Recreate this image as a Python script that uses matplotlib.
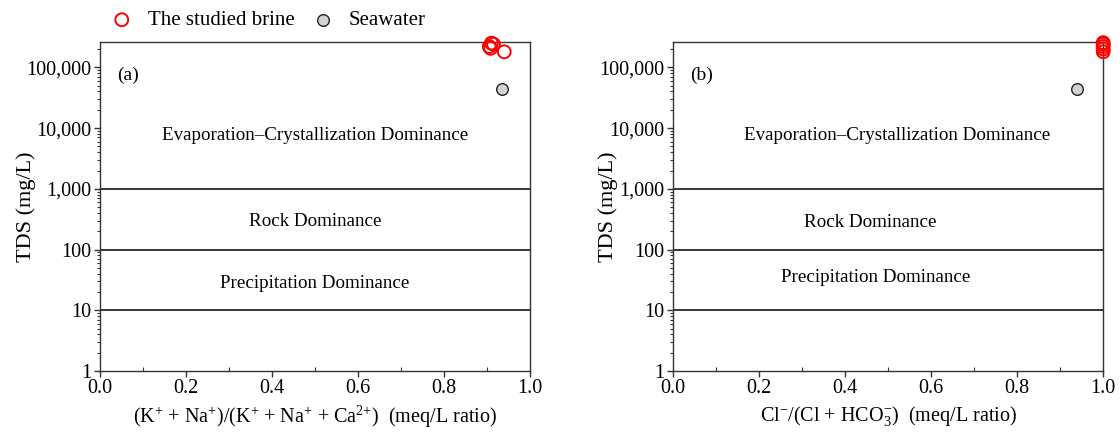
import numpy as np
import matplotlib
matplotlib.use('Agg')
import matplotlib.pyplot as plt
from matplotlib.ticker import FuncFormatter, LogLocator, MultipleLocator

plt.rcParams['font.family'] = ['Liberation Serif', 'DejaVu Serif']
plt.rcParams['mathtext.fontset'] = 'custom'
plt.rcParams['mathtext.rm'] = 'Liberation Serif'
plt.rcParams['mathtext.it'] = 'Liberation Serif:italic'
plt.rcParams['mathtext.bf'] = 'Liberation Serif:bold'

# panel (a): cation ratio vs TDS
brine_cation_ratio = [0.905, 0.910, 0.915, 0.908, 0.940]
brine_tds_a = [220000, 250000, 240000, 205000, 180000]
# panel (b): Cl/(Cl+HCO3) ratio vs TDS
brine_anion_ratio = [1.0, 1.0, 1.0, 1.0, 1.0]
brine_tds_b = [255000, 240000, 220000, 200000, 180000]

seawater_cation_ratio = [0.935]
seawater_anion_ratio = [0.94]
seawater_tds = [43500]

boundaries = [1000, 100, 10]
y_ticks = [1, 10, 100, 1000, 10000, 100000]

xlabels = [r'(K$^{+}$ + Na$^{+}$)/(K$^{+}$ + Na$^{+}$ + Ca$^{2{+}}$)  (meq/L ratio)',
           r'Cl$^{-}$/(Cl + HCO$_{3}^{-}$)  (meq/L ratio)']
panel_tags = ['(a)', '(b)']
# region labels: text, x position, y position (data)
regions_a = [('Evaporation\u2013Crystallization Dominance', 0.5, 7500),
             ('Rock Dominance', 0.5, 290),
             ('Precipitation Dominance', 0.5, 28)]
regions_b = [('Evaporation\u2013Crystallization Dominance', 0.52, 7500),
             ('Rock Dominance', 0.458, 280),
             ('Precipitation Dominance', 0.47, 35)]

fig = plt.figure(figsize=(11.2, 4.34), dpi=100)
ax1 = fig.add_axes([0.0893, 0.145, 0.384, 0.758])
ax2 = fig.add_axes([0.601, 0.145, 0.384, 0.758])

spine_col = '#333333'


def style_axis(ax, xlabel, tag, regions, ylab_x):
    ax.set_yscale('log')
    ax.set_xlim(0, 1)
    ax.set_ylim(1, 260000)
    for b in boundaries:
        ax.axhline(b, color='black', lw=1.1, zorder=1)
    for txt, x, y in regions:
        ax.text(x, y, txt, ha='center', va='center', fontsize=13.7)
    ax.text(0.04, 0.9, tag, transform=ax.transAxes, fontsize=14,
            ha='left', va='center')
    ax.set_yticks(y_ticks)
    ax.yaxis.set_minor_locator(LogLocator(base=10, subs=np.arange(2, 10)))
    ax.yaxis.set_major_formatter(FuncFormatter(lambda v, p: f'{int(v):,}'))
    ax.yaxis.set_minor_formatter(FuncFormatter(lambda v, p: ''))
    ax.xaxis.set_major_locator(MultipleLocator(0.2))
    ax.xaxis.set_minor_locator(MultipleLocator(0.1))
    ax.xaxis.set_major_formatter(FuncFormatter(lambda v, p: f'{v:.1f}'))
    ax.tick_params(axis='both', which='major', direction='out', length=4,
                   width=1, labelsize=14.5, color=spine_col, pad=2)
    ax.tick_params(axis='y', which='minor', direction='out', length=2,
                   width=0.8, color=spine_col)
    ax.tick_params(axis='x', which='minor', direction='in', length=3,
                   width=0.8, color=spine_col)
    for s in ax.spines.values():
        s.set_color(spine_col)
        s.set_linewidth(1.0)
    ax.set_xlabel(xlabel, fontsize=14.5, labelpad=4)
    ax.set_ylabel('TDS (mg/L)', fontsize=16)
    ax.yaxis.set_label_coords(ylab_x, 0.5)


style_axis(ax1, xlabels[0], panel_tags[0], regions_a, -0.148)
style_axis(ax2, xlabels[1], panel_tags[1], regions_b, -0.129)

ax1.scatter(brine_cation_ratio, brine_tds_a, s=85, facecolors='none',
            edgecolors='red', linewidths=1.4, clip_on=False, zorder=5,
            label='The studied brine')
ax1.scatter(seawater_cation_ratio, seawater_tds, s=70, facecolors='#d3d3d3',
            edgecolors='#222222', linewidths=1.0, clip_on=False, zorder=5,
            label='Seawater')
ax2.scatter(brine_anion_ratio, brine_tds_b, s=85, facecolors='none',
            edgecolors='red', linewidths=1.4, clip_on=False, zorder=5)
ax2.scatter(seawater_anion_ratio, seawater_tds, s=70, facecolors='#d3d3d3',
            edgecolors='#222222', linewidths=1.0, clip_on=False, zorder=5)

fig.legend(*ax1.get_legend_handles_labels(), loc='center left',
           bbox_to_anchor=(0.092, 0.953), ncol=2, frameon=False, fontsize=15,
           handlelength=1.0, handletextpad=0.75, columnspacing=0.85,
           borderaxespad=0)

fig.savefig('out.png', dpi=100)
